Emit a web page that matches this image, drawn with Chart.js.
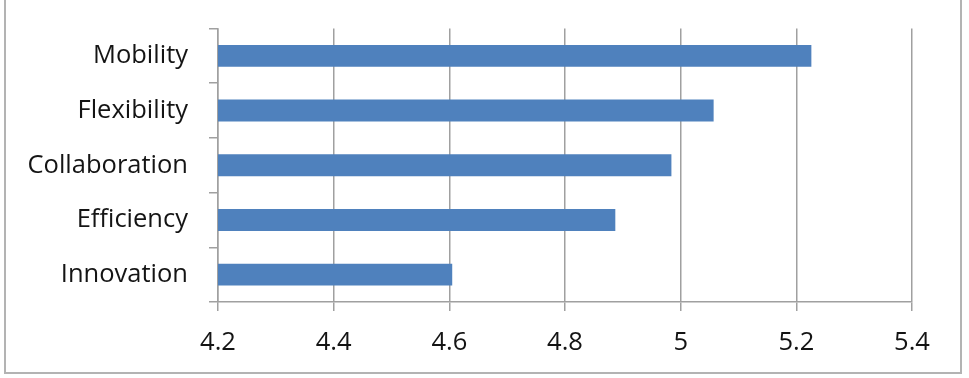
<!DOCTYPE html>
<html>
<head>
<meta charset="utf-8">
<script src="https://cdn.jsdelivr.net/npm/chart.js@4"></script>
<style>
    body { margin: 0; background: #fff; }
    #wrap { position: relative; width: 969px; height: 378px; overflow: hidden; }
    #frame { position: absolute; left: 4px; top: -4px; width: 958px; height: 378px; border: 2px solid #b3b3b3; box-sizing: border-box; }
    #chart { position: absolute; left: 0; top: 0; }
</style>
</head>
<body>
<div id="wrap">
    <div id="frame"></div>
    <canvas id="chart" width="969" height="378"></canvas>
</div>
<script>
const categories = ['Mobility', 'Flexibility', 'Collaboration', 'Efficiency', 'Innovation'];
const scores = [5.226, 5.057, 4.984, 4.887, 4.605];
const xMin = 4.2;
const xMax = 5.4;
const xStep = 0.2;

document.addEventListener('DOMContentLoaded', function () {
    drawChart();
});

function drawChart() {
    const ctx = document.getElementById('chart').getContext('2d');
    new Chart(ctx, {
        type: 'bar',
        data: {
            labels: categories,
            datasets: [{
                label: 'Score',
                data: scores,
                backgroundColor: '#4f81bd',
                borderWidth: 0,
                categoryPercentage: 0.4,
                barPercentage: 1.0
            }]
        },
        options: {
            indexAxis: 'y',
            responsive: false,
            animation: false,
            layout: { padding: { top: 28.5, right: 57, left: 0, bottom: 0 } },
            plugins: { legend: { display: false }, tooltip: { enabled: false } },
            scales: {
                x: {
                    min: xMin,
                    max: xMax,
                    ticks: {
                        stepSize: xStep,
                        padding: 16,
                        maxRotation: 0,
                        color: '#141414',
                        font: { family: 'Open Sans', size: 25.5 },
                        callback: v => Math.round(v * 10) / 10
                    },
                    grid: { color: '#a0a0a0', lineWidth: 1.5, tickLength: 9 },
                    border: { color: '#a0a0a0', width: 1.5 },
                    afterFit: scale => { scale.height = 76; scale.paddingLeft = 0; scale.paddingRight = 0; }
                },
                y: {
                    ticks: {
                        padding: 21,
                        color: '#141414',
                        font: { family: 'Open Sans', size: 25.5 }
                    },
                    grid: { drawOnChartArea: false, color: '#a0a0a0', lineWidth: 1.5, tickLength: 9, offset: true },
                    border: { color: '#a0a0a0', width: 1.5 },
                    afterFit: scale => { scale.width = 218; scale.paddingTop = 0; scale.paddingBottom = 0; }
                }
            }
        }
    });
}
</script>
</body>
</html>
